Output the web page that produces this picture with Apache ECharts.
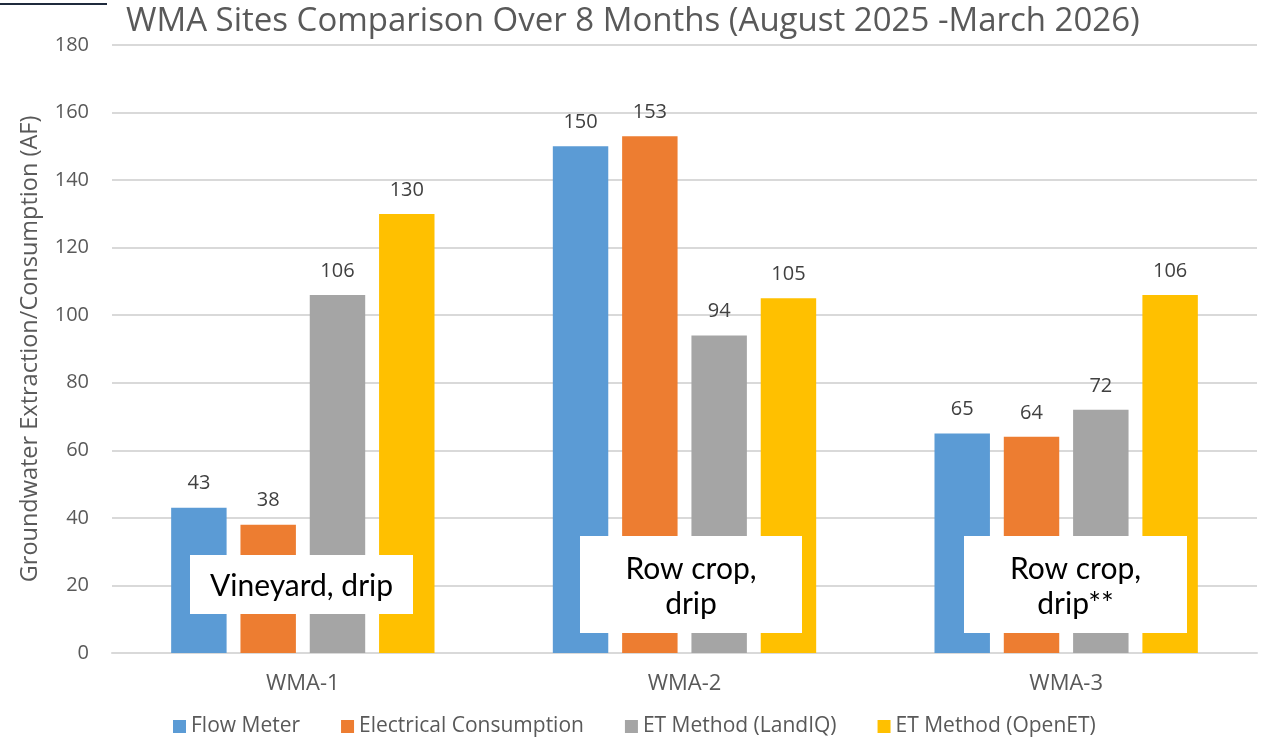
<!DOCTYPE html>
<html>
<head>
<meta charset="utf-8">
<script src="https://cdn.jsdelivr.net/npm/echarts@6/dist/echarts.min.js"></script>
<style>
html, body { margin: 0; padding: 0; background: #fff; }
#main { width: 1261px; height: 738px; }
</style>
</head>
<body>
<div id="main"></div>
<script>
var categories = ['WMA-1', 'WMA-2', 'WMA-3'];
var seriesNames = ['Flow Meter', 'Electrical Consumption', 'ET Method (LandIQ)', 'ET Method (OpenET)'];
var flowMeter = [43, 150, 65];
var electrical = [38, 153, 64];
var landIQ = [106, 94, 72];
var openET = [130, 105, 106];
var siteNotes = ['Vineyard, drip', 'Row crop,\ndrip', 'Row crop,\ndrip**'];
var colors = ['#5B9BD5', '#ED7D31', '#A5A5A5', '#FFC000'];

var font = 'Open Sans';
var myChart = echarts.init(document.getElementById('main'));

function makeSeries(name, data, i) {
    return {
        name: name,
        type: 'bar',
        data: data,
        barGap: '25%',
        barCategoryGap: '31%',
        itemStyle: { color: colors[i] },
        label: {
            show: true,
            position: 'top',
            distance: 14,
            color: '#404040',
            fontSize: 20,
            fontFamily: font
        },
        emphasis: { disabled: true }
    };
}

// white note boxes sit on top of the bars
var notes = [
    { left: 190, top: 555, width: 223, height: 59, text: siteNotes[0] },
    { left: 580, top: 536, width: 222, height: 97, text: siteNotes[1] },
    { left: 964, top: 536, width: 223, height: 97, text: siteNotes[2] }
];
var graphics = [];
notes.forEach(function (n) {
    graphics.push({
        type: 'rect',
        left: n.left,
        top: n.top,
        z: 100,
        shape: { width: n.width, height: n.height },
        style: { fill: '#fff' }
    });
    graphics.push({
        type: 'text',
        x: n.left + n.width / 2,
        y: n.top + n.height / 2 + 2,
        z: 101,
        style: {
            text: n.text,
            fill: '#000',
            font: '30px Lato',
            lineHeight: 35,
            align: 'center',
            verticalAlign: 'middle'
        }
    });
});
graphics.push({
    type: 'rect',
    left: 0,
    top: 3,
    shape: { width: 107, height: 2 },
    style: { fill: '#1F2A3C' }
});

option = {
    color: colors,
    animation: false,
    title: {
        text: 'WMA Sites Comparison Over 8 Months (August 2025 -March 2026)',
        left: 121,
        top: 0,
        textStyle: {
            color: '#595959',
            fontSize: 33,
            fontWeight: 'normal',
            fontFamily: font
        }
    },
    legend: {
        top: 711,
        left: 168,
        itemWidth: 13,
        itemHeight: 13,
        itemGap: 41,
        icon: 'rect',
        textStyle: { color: '#595959', fontSize: 21, fontFamily: font }
    },
    grid: {
        left: 112,
        right: 4,
        top: 45,
        bottom: 85
    },
    xAxis: {
        type: 'category',
        data: categories,
        axisTick: { show: false },
        axisLine: { lineStyle: { color: '#D9D9D9', width: 2 } },
        axisLabel: { color: '#595959', fontSize: 22, fontFamily: font, margin: 20 }
    },
    yAxis: {
        type: 'value',
        min: 0,
        max: 180,
        interval: 20,
        name: 'Groundwater Extraction/Consumption (AF)',
        nameLocation: 'middle',
        nameGap: 70,
        nameTextStyle: { color: '#595959', fontSize: 23.5, fontFamily: font },
        axisLabel: { color: '#595959', fontSize: 20, fontFamily: font, margin: 23 },
        splitLine: { lineStyle: { color: '#D9D9D9', width: 2 } }
    },
    graphic: graphics,
    series: [
        makeSeries(seriesNames[0], flowMeter, 0),
        makeSeries(seriesNames[1], electrical, 1),
        makeSeries(seriesNames[2], landIQ, 2),
        makeSeries(seriesNames[3], openET, 3)
    ]
};

myChart.setOption(option);
</script>
</body>
</html>
